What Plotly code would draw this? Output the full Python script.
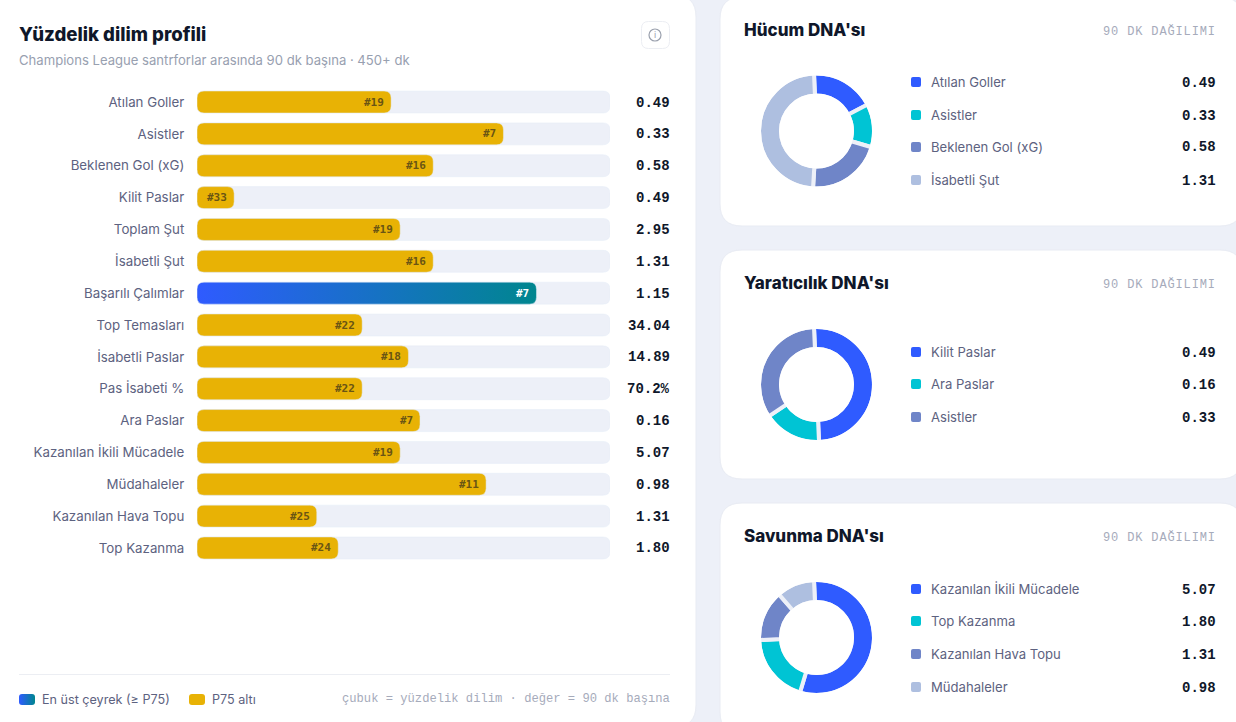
import plotly.graph_objects as go

W, H = 1236, 722

# ======= Datos =======
metricas = ["Atılan Goller", "Asistler", "Beklenen Gol (xG)", "Kilit Paslar", "Toplam Şut",
            "İsabetli Şut", "Başarılı Çalımlar", "Top Temasları", "İsabetli Paslar", "Pas İsabeti %",
            "Ara Paslar", "Kazanılan İkili Mücadele", "Müdahaleler", "Kazanılan Hava Topu", "Top Kazanma"]
yuzdelik = [47, 74.2, 57.2, 9, 49.2, 57.2, 82.2, 40, 51.2, 40, 54, 49.2, 70, 29, 34.2]
siralama = ["#19", "#7", "#16", "#33", "#19", "#16", "#7", "#22", "#18", "#22", "#7", "#19", "#11", "#25", "#24"]
degerler = ["0.49", "0.33", "0.58", "0.49", "2.95", "1.31", "1.15", "34.04", "14.89", "70.2%",
            "0.16", "5.07", "0.98", "1.31", "1.80"]

hucum_ad = ["Atılan Goller", "Asistler", "Beklenen Gol (xG)", "İsabetli Şut"]
hucum_val = [0.49, 0.33, 0.58, 1.31]
yaratici_ad = ["Kilit Paslar", "Ara Paslar", "Asistler"]
yaratici_val = [0.49, 0.16, 0.33]
savunma_ad = ["Kazanılan İkili Mücadele", "Top Kazanma", "Kazanılan Hava Topu", "Müdahaleler"]
savunma_val = [5.07, 1.80, 1.31, 0.98]

# ======= Colores y fuentes =======
FONDO = "#edf0f8"
ORO = "#e8b205"
MARCA = "#1e6fb4"  # se sustituye por el degradado en el post_script
DONA = ["#2f5bff", "#00c4d4", "#6f85c8", "#aebfe0"]
TINTA = "#0f172a"
GRIS = "#5d6280"
SANS = "Inter"
MONO = "Liberation Mono"


def fx(px):
    return px / W


def fy(py):
    return 1 - py / H


def tarjeta(x0, y0, x1, y1, r=22):
    p = (f"M {fx(x0 + r)} {fy(y0)} L {fx(x1 - r)} {fy(y0)} Q {fx(x1)} {fy(y0)} {fx(x1)} {fy(y0 + r)} "
         f"L {fx(x1)} {fy(y1 - r)} Q {fx(x1)} {fy(y1)} {fx(x1 - r)} {fy(y1)} "
         f"L {fx(x0 + r)} {fy(y1)} Q {fx(x0)} {fy(y1)} {fx(x0)} {fy(y1 - r)} "
         f"L {fx(x0)} {fy(y0 + r)} Q {fx(x0)} {fy(y0)} {fx(x0 + r)} {fy(y0)} Z")
    return dict(type="path", path=p, xref="paper", yref="paper", fillcolor="white",
                line=dict(color="#e8ebf3", width=1), layer="below")


def caja(x0, y0, x1, y1, color, r=3, borde=None):
    s = tarjeta(x0, y0, x1, y1, r)
    s["fillcolor"] = color
    s["line"] = dict(color=borde or color, width=1 if borde else 0)
    s["layer"] = "above"
    return s


def circulo(cx, cy, r, fill=None, line=None, width=0):
    return dict(type="circle", xref="paper", yref="paper", layer="above",
                x0=fx(cx - r), x1=fx(cx + r), y0=fy(cy + r), y1=fy(cy - r),
                fillcolor=fill or "rgba(0,0,0,0)", line=dict(color=line or "rgba(0,0,0,0)", width=width))


def texto(x, y, t, size=14, color=GRIS, font=SANS, anchor="left", weight=None, subir=0):
    # las anotaciones llevan 2 px de relleno interno
    shift = {"left": -2, "right": 2}.get(anchor, 0)
    return dict(x=fx(x), y=fy(y), xref="paper", yref="paper", text=t, showarrow=False,
                xanchor=anchor, yanchor="middle", xshift=shift, yshift=subir,
                font=dict(family=font, size=size, color=color, weight=weight))


fig = go.Figure()

# ======= 1. Barras de percentil =======
fig.add_trace(go.Bar(y=metricas, x=[100] * len(metricas), orientation="h",
                     marker=dict(color=FONDO), hoverinfo="skip"))
colores = [MARCA if p >= 75 else ORO for p in yuzdelik]
fig.add_trace(go.Bar(y=metricas, x=yuzdelik, orientation="h", marker=dict(color=colores)))

anot = []
for m, p, s, v in zip(metricas, yuzdelik, siralama, degerler):
    anot.append(dict(x=p, y=m, xref="x", yref="y", text=s, showarrow=False, xanchor="right", xshift=-5,
                     font=dict(family="DejaVu Sans Mono", size=11, weight="bold",
                               color="white" if p >= 75 else "#6a5514")))
    anot.append(dict(x=fx(670), y=m, xref="paper", yref="y", text=v, showarrow=False, xanchor="right",
                     xshift=2, yshift=-0.5, font=dict(family=MONO, size=14, weight="bold", color=TINTA)))

# ======= 2. Donas =======
donas = [(hucum_ad, hucum_val, 131, "Hücum DNA'sı", 30, [82, 115, 147, 180]),
         (yaratici_ad, yaratici_val, 384.5, "Yaratıcılık DNA'sı", 283, [352, 384, 417]),
         (savunma_ad, savunma_val, 637.5, "Savunma DNA'sı", 536, [589, 621, 654, 687])]
R = 57.5
CX = 816.5
formas = [tarjeta(-40, -5, 696, 727), tarjeta(720, -3, 1242, 226),
          tarjeta(720, 250, 1242, 479), tarjeta(720, 503, 1242, 734)]

for nombres, valores, cy, titulo, ty, filas in donas:
    # el hueco de cada porción queda al final de la porción, de ahí el giro
    fig.add_trace(go.Pie(labels=nombres, values=valores, hole=0.617, sort=False, direction="clockwise",
                         rotation=-2.5, textinfo="none", showlegend=False,
                         marker=dict(colors=DONA[:len(valores)], line=dict(color=FONDO, width=4)),
                         domain=dict(x=[fx(CX - R), fx(CX + R)], y=[fy(cy + R), fy(cy - R)])))
    # tapan el trazo de separación por fuera y por dentro del anillo
    formas.append(circulo(CX, cy, 58, line="white", width=5))
    formas.append(circulo(CX, cy, 37.5, fill="white"))
    anot.append(texto(744, ty, titulo, size=17, color=TINTA, weight=800))
    anot.append(texto(1210, ty + 1, "90 DK DAĞILIMI", size=12, color="#a6abbb", font=MONO, anchor="right"))
    for n, v, c, f in zip(nombres, valores, DONA, filas):
        formas.append(caja(911, f - 5, 921, f + 5, c, r=2))
        anot.append(texto(931, f, n, size=13.1))
        anot.append(texto(1216, f, f"{v:.2f}", size=14, color=TINTA, font=MONO, anchor="right",
                          weight="bold", subir=-0.5))

# ======= 3. Textos y leyenda del panel izquierdo =======
anot.append(texto(19, 34, "Yüzdelik dilim profili", size=18.6, color=TINTA, weight=800))
anot.append(texto(19, 60, "Champions League santrforlar arasında 90 dk başına · 450+ dk", size=13.1, color="#98a0b0"))
anot.append(texto(42, 699, "En üst çeyrek (≥ P75)", size=12.6))
anot.append(texto(212, 699, "P75 altı", size=12.6))
anot.append(texto(670, 699, "çubuk = yüzdelik dilim · değer = 90 dk başına", size=12.15, color="#a6abbb",
                  font=MONO, anchor="right"))
anot.append(texto(655, 35, "i", size=9, color="#9aa0ad", anchor="center"))

formas += [
    caja(19, 694, 35, 705, MARCA, r=3),
    caja(189, 694, 205, 705, ORO, r=3),
    dict(type="line", xref="paper", yref="paper", x0=fx(19), x1=fx(670), y0=fy(674.5), y1=fy(674.5),
         line=dict(color="#eceef3", width=1)),
    caja(641.5, 21.5, 669.5, 48.5, "white", r=7, borde="#eceef3"),
    circulo(655, 35, 6, line="#9aa0ad", width=1.2),
]

fig.update_layout(
    width=W, height=H, margin=dict(l=0, r=0, t=0, b=0), autosize=False,
    paper_bgcolor=FONDO, plot_bgcolor="rgba(0,0,0,0)",
    barmode="overlay", bargap=0.31, showlegend=False,
    shapes=formas, annotations=anot,
    xaxis=dict(domain=[fx(197), fx(610)], range=[0, 100], visible=False),
    yaxis=dict(domain=[fy(563.9), fy(86.1)], autorange="reversed", showgrid=False, zeroline=False,
               showline=False, ticks="outside", ticklen=9, tickcolor="rgba(0,0,0,0)",
               tickfont=dict(family=SANS, size=13.3, color=GRIS)),
)

# Plotly no tiene degradado en barras ni redondea la base: se retocan los path ya dibujados
post = """
document.body.style.margin = '0';
document.documentElement.style.overflow = 'hidden';
var gd = document.getElementById('{plot_id}');
function retoque() {
    var svg = gd.querySelector('.main-svg');
    if (!document.getElementById('grad-marca')) {
        var ns = 'http://www.w3.org/2000/svg';
        var defs = document.createElementNS(ns, 'defs');
        var g = document.createElementNS(ns, 'linearGradient');
        g.setAttribute('id', 'grad-marca');
        [['0%', '#2f5bff'], ['100%', '#00868f']].forEach(function (s) {
            var st = document.createElementNS(ns, 'stop');
            st.setAttribute('offset', s[0]);
            st.setAttribute('stop-color', s[1]);
            g.appendChild(st);
        });
        defs.appendChild(g);
        svg.appendChild(defs);
    }
    gd.querySelectorAll('.barlayer .point path').forEach(function (p) {
        var b = p.getBBox(), r = 7;
        var x0 = b.x, y0 = b.y, x1 = b.x + b.width, y1 = b.y + b.height;
        p.setAttribute('d', 'M' + (x0 + r) + ',' + y0 + 'H' + (x1 - r) + 'Q' + x1 + ',' + y0 + ' ' + x1 + ',' + (y0 + r) +
            'V' + (y1 - r) + 'Q' + x1 + ',' + y1 + ' ' + (x1 - r) + ',' + y1 +
            'H' + (x0 + r) + 'Q' + x0 + ',' + y1 + ' ' + x0 + ',' + (y1 - r) +
            'V' + (y0 + r) + 'Q' + x0 + ',' + y0 + ' ' + (x0 + r) + ',' + y0 + 'Z');
    });
    gd.querySelectorAll('path').forEach(function (p) {
        if (p.style.fill === 'rgb(30, 111, 180)') { p.style.fill = 'url(#grad-marca)'; }
    });
    gd.querySelectorAll('.annotation-text').forEach(function (t) {
        if (t.textContent === '90 DK DAĞILIMI') { t.style.letterSpacing = '0.85px'; }
    });
}
retoque();
gd.on('plotly_afterplot', retoque);
"""

fig.write_html("out.html", post_script=post, config={"displayModeBar": False})
